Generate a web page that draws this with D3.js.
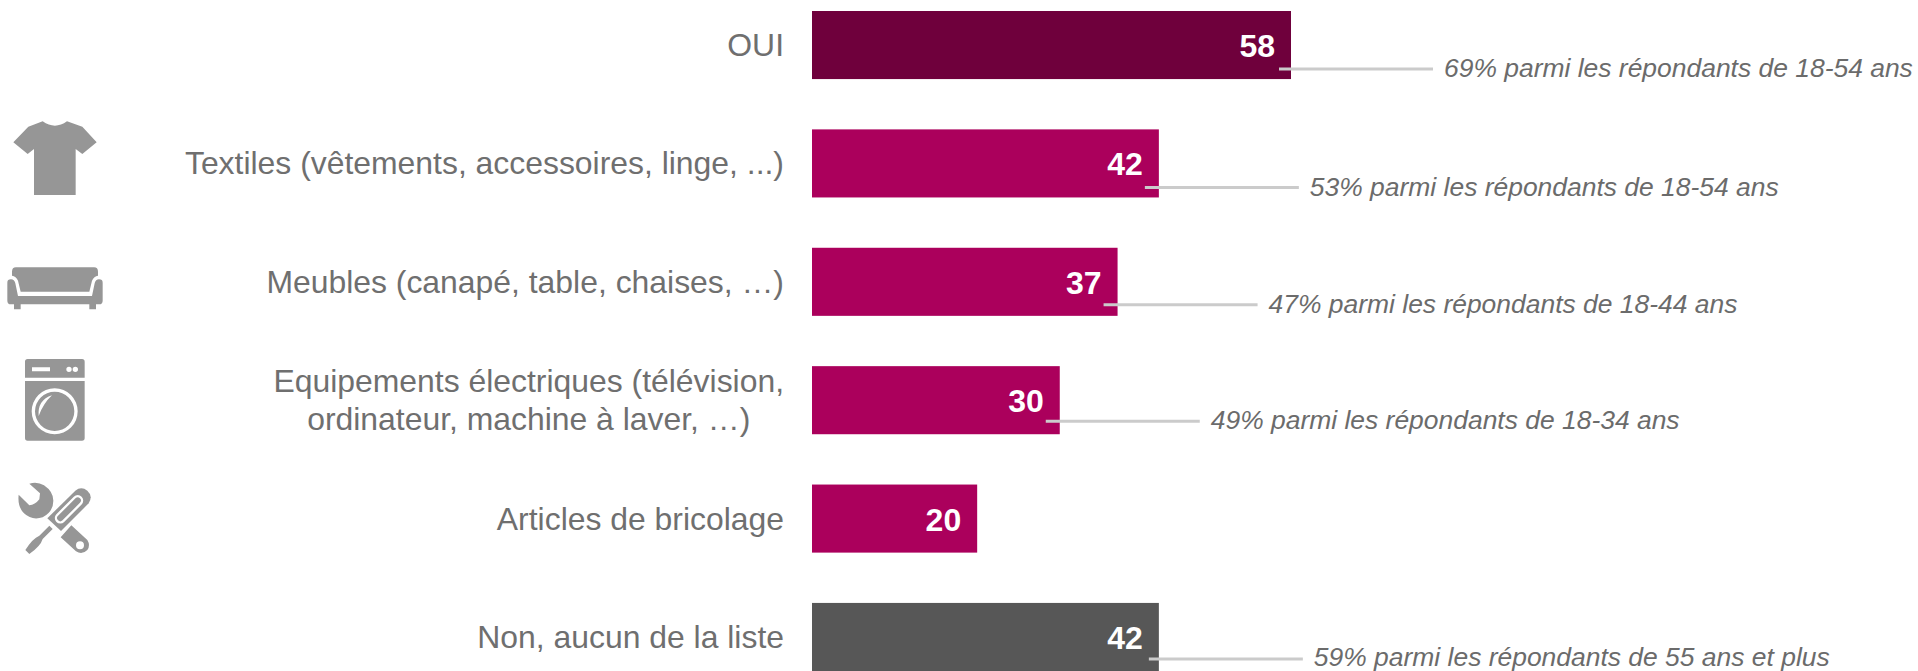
<!DOCTYPE html>
<html><head><meta charset="utf-8">
<style>html,body{margin:0;padding:0;background:#fff;overflow:hidden}svg{display:block}text{font-family:"Liberation Sans",Arial,sans-serif}</style>
<script src="https://cdnjs.cloudflare.com/ajax/libs/d3/7.8.5/d3.min.js"></script>
</head><body><svg id="c" width="1918" height="671"></svg>
<script>
const categories=[["OUI"],["Textiles (vêtements, accessoires, linge, ...)"],["Meubles (canapé, table, chaises, …)"],["Equipements électriques (télévision,","ordinateur, machine à laver, …)"],["Articles de bricolage"],["Non, aucun de la liste"]];
const values=[58,42,37,30,20,42];
const notes=["69% parmi les répondants de 18-54 ans","53% parmi les répondants de 18-54 ans","47% parmi les répondants de 18-44 ans","49% parmi les répondants de 18-34 ans",null,"59% parmi les répondants de 55 ans et plus"];
const barColors=["#6f003c","#ab005c","#ab005c","#ab005c","#ab005c","#575757"];
const noteDy=[58,58,57,55,0,56];
const noteBack=[12,14,14,14,0,10];
const noteBase=[8,9,8,8,0,7];
const svg=d3.select("#c");
const x=d3.scaleLinear().domain([0,58]).range([812,1291]);
const y=d3.scaleBand().domain(d3.range(6)).range([11,671]).paddingInner(0.425).paddingOuter(0);
const h=y.bandwidth();
svg.selectAll("rect.b").data(values).join("rect").attr("class","b")
 .attr("x",x(0)).attr("y",(d,i)=>y(i)).attr("width",d=>x(d)-x(0)).attr("height",h).attr("fill",(d,i)=>barColors[i]);
svg.selectAll("text.v").data(values).join("text").attr("class","v")
 .attr("x",d=>x(d)-16).attr("y",(d,i)=>y(i)+h/2+12).attr("text-anchor","end")
 .attr("font-size",32).attr("font-weight","bold").attr("fill","#fff").text(d=>d);
categories.forEach((lines,i)=>{
 const cy=y(i)+h/2, g=svg.append("g"), lh=38;
 const ts=lines.map((l,j)=>g.append("text").attr("font-size",31.9).attr("fill","#6f6f6f")
   .attr("y",cy+11+(j-(lines.length-1)/2)*lh).text(l));
 const w=Math.max(...ts.map(t=>t.node().getComputedTextLength()));
 ts.forEach(t=>t.attr("x",784-w/2).attr("text-anchor","middle"));
});
notes.forEach((n,i)=>{
 if(!n)return;
 const ly=y(i)+noteDy[i], x0=x(values[i])-noteBack[i];
 svg.append("line").attr("x1",x0).attr("x2",x0+154).attr("y1",ly).attr("y2",ly).attr("stroke","#cbcbcb").attr("stroke-width",3);
 svg.append("text").attr("x",x0+165).attr("y",ly+noteBase[i]).attr("font-size",26.45).attr("font-style","italic").attr("fill","#6b6b6b").text(n);
});
const G="#969696";
const icon=(p)=>svg.append("g").attr("transform","translate("+p[0]+","+p[1]+") scale("+(1/3)+")");
// t-shirt
icon([0,100]).append("path").attr("fill",G).attr("d","M128 64 Q165 90 201 64 L247 80 L290 127 L247 162 L227 147 L227 285 L102 285 L102 147 L83 162 L40 127 L85 80 Z");
// sofa
const s=icon([0,240]);
s.append("path").attr("fill",G).attr("d","M48 82 H282 Q294 82 294 95 V107 Q282 108 276 122 L268 155 H62 L54 122 Q48 108 36 107 V95 Q36 82 48 82 Z");
s.append("path").attr("fill",G).attr("d","M22 128 Q22 118 33 118 Q43 118 46 130 L54 168 H276 L284 130 Q287 118 297 118 Q308 118 308 128 V182 Q308 193 297 193 H288 V208 H268 V193 H62 V208 H42 V193 H33 Q22 193 22 182 Z");
// washer
const m=icon([0,240]);
m.append("path").attr("fill",G).attr("fill-rule","evenodd").attr("d","M83 357 H246 Q254 357 254 365 V413 H75 V365 Q75 357 83 357 Z M96 382 V394 H150 V382 Z M207 380 A8 8 0 1 0 207 396 A8 8 0 1 0 207 380 Z M226 380 A8 8 0 1 0 226 396 A8 8 0 1 0 226 380 Z");
m.append("path").attr("fill",G).attr("fill-rule","evenodd").attr("d","M75 423 H254 V594 Q254 602 246 602 H83 Q75 602 75 594 Z M164 445 A69 69 0 1 0 164 583 A69 69 0 1 0 164 445 Z M164 455 A59 59 0 1 1 164 573 A59 59 0 1 1 164 455 Z");
m.append("path").attr("fill","#fff").attr("d","M116 528 Q112 480 156 466 Q130 490 116 528 Z");
// tools
const t=icon([0,460]);
t.append("path").attr("fill",G).attr("d","M88 71 Q112 64 132 76 Q160 95 160 122 Q160 155 128 172 Q95 182 72 160 Q52 140 56 104 L88 136 Q105 135 118 118 L120 100 Z");
t.append("path").attr("fill",G).attr("d","M142 175 L226 92 Q244 78 262 92 Q280 108 266 130 L183 213 Z");
t.append("rect").attr("x",157).attr("y",135).attr("width",100).attr("height",26).attr("rx",13).attr("fill","none").attr("stroke","#fff").attr("stroke-width",7).attr("transform","rotate(-45 207 148)");
t.append("path").attr("fill",G).attr("d","M148 197 L158 207 L128 237 Q122 258 88 282 L76 270 Q98 235 118 227 Z");
t.append("path").attr("fill",G).attr("fill-rule","evenodd").attr("d","M214 196 L262 240 Q272 256 262 270 Q246 286 228 274 L182 232 Z M240 244 A12 12 0 1 0 240 268 A12 12 0 1 0 240 244 Z");
</script></body></html>
